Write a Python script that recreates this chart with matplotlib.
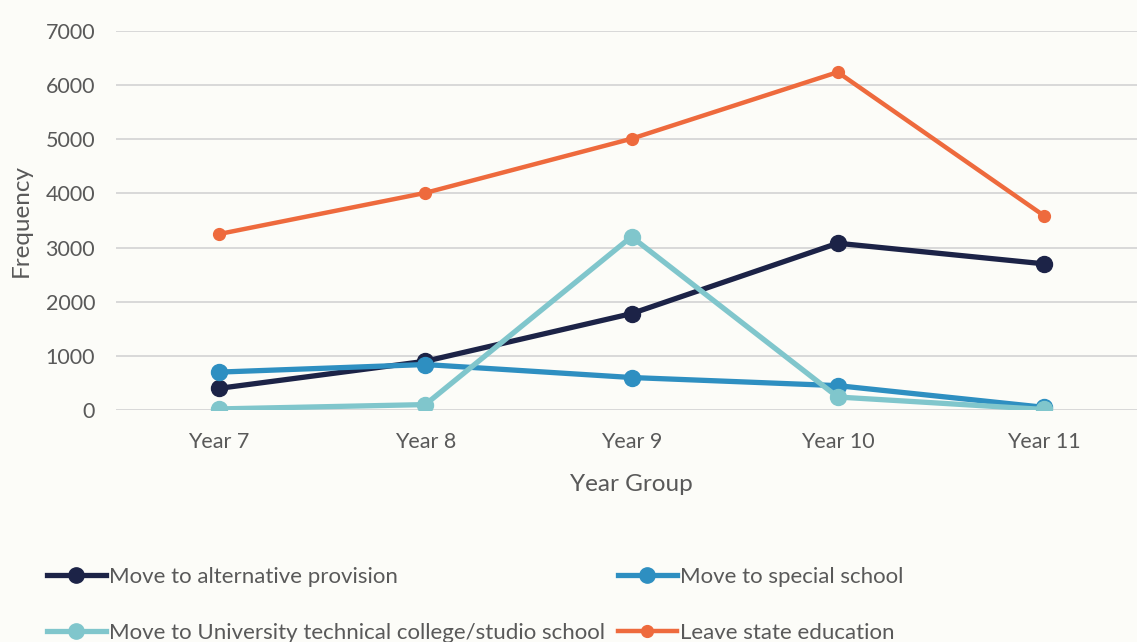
import matplotlib.pyplot as plt
from matplotlib.lines import Line2D

plt.rcParams['font.family'] = ['Lato', 'DejaVu Sans']

years = ['Year 7', 'Year 8', 'Year 9', 'Year 10', 'Year 11']
alt_provision = [400, 900, 1780, 3080, 2700]
special_school = [700, 840, 600, 450, 50]
utc_studio = [20, 100, 3200, 240, 10]
leave_state = [3250, 4010, 5010, 6240, 3590]

c_navy = '#1c2347'
c_blue = '#2e8fc1'
c_teal = '#80c6cc'
c_orange = '#ee6a3d'
txt = '#595959'
bg = '#fcfcf8'

fig = plt.figure(figsize=(11.37, 6.42), dpi=100, facecolor=bg)
ax = fig.add_axes([116/1137, 1-410/642, 1031/1137, 379/642], facecolor=bg)

x = list(range(len(years)))
ax.plot(x, alt_provision, color=c_navy, lw=3.8, marker='o', ms=11.5, zorder=3)
ax.plot(x, special_school, color=c_blue, lw=3.8, marker='o', ms=11.5, zorder=4)
ax.plot(x, utc_studio, color=c_teal, lw=3.8, marker='o', ms=11.5, zorder=5)
ax.plot(x, leave_state, color=c_orange, lw=3.2, marker='o', ms=8.5, zorder=6)

ax.set_xlim(-0.5, 4.5)
ax.set_ylim(0, 7000)
ax.set_yticks(range(0, 7001, 1000))
ax.set_xticks(x)
ax.set_xticklabels(years)
ax.grid(axis='y', color='#d9d9d9', lw=1.4)
ax.set_axisbelow(True)
for s in ax.spines.values():
    s.set_visible(False)
ax.tick_params(length=0, labelsize=15.5, labelcolor=txt)
ax.tick_params(axis='y', pad=15)
ax.tick_params(axis='x', pad=15.5)
ax.set_xlabel('Year Group', fontsize=17.5, color=txt, labelpad=16)
ax.set_ylabel('Frequency', fontsize=17.5, color=txt)
ax.yaxis.set_label_coords(-84/1031, 0.5)

def handle(c, lw, ms):
    return Line2D([], [], color=c, lw=lw, marker='o', ms=ms)

leg_kw = dict(loc='upper left', frameon=False, fontsize=16, handlelength=2.65,
              handletextpad=0.12, labelspacing=1.6, labelcolor=txt,
              borderaxespad=0, borderpad=0)
fig.legend([handle(c_navy, 3.8, 11), handle(c_teal, 3.8, 11)],
           ['Move to alternative provision',
            'Move to University technical college/studio school'],
           bbox_to_anchor=(47/1137, 1-567/642), **leg_kw)
fig.legend([handle(c_blue, 3.8, 11), handle(c_orange, 3.2, 8.5)],
           ['Move to special school', 'Leave state education'],
           bbox_to_anchor=(618/1137, 1-567/642), **leg_kw)

fig.savefig('out.png', dpi=100, facecolor=bg)
